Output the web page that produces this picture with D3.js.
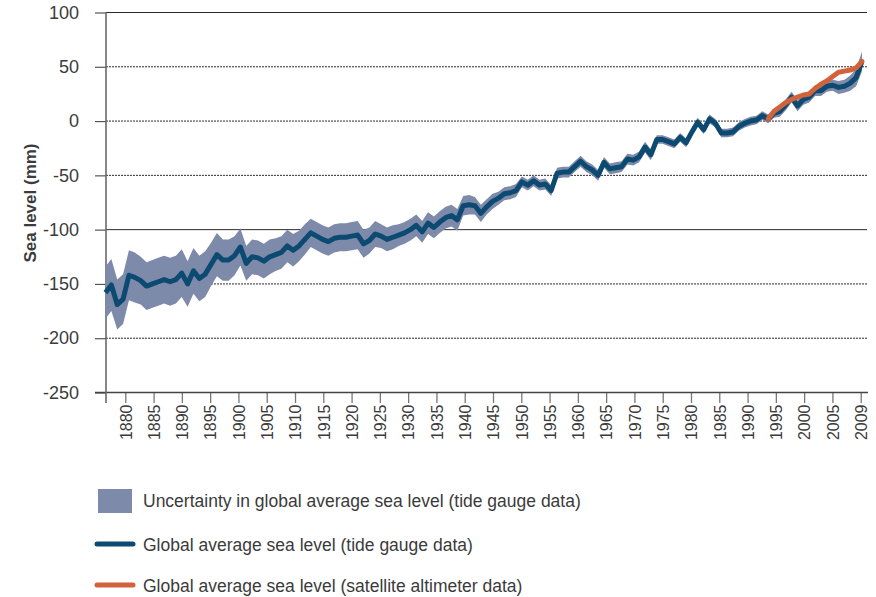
<!DOCTYPE html>
<html>
<head>
<meta charset="utf-8">
<script src="https://d3js.org/d3.v7.min.js"></script>
<style>
  body { margin: 0; background: #fff; }
  text { font-family: "Liberation Sans", Arial, sans-serif; fill: #3b3b3b; }
</style>
</head>
<body>
<div id="chart"></div>
<script>
// tide gauge reconstruction, one value per year 1880-2009 (mm)
var years = d3.range(1880, 2010);
var tideLevel = [
  -158, -151, -169, -164, -142, -144, -147, -152, -150, -148,
  -146, -148, -146, -140, -150, -138, -145, -141, -132, -123,
  -128, -128, -124, -116, -131, -125, -126, -129, -125, -123,
  -121, -115, -119, -115, -109, -103, -106, -109, -111, -108,
  -107, -107, -106, -105, -113, -110, -104, -106, -109, -107,
  -105, -103, -100, -96, -102, -94, -98, -93, -89, -87,
  -91, -78, -77, -78, -85, -79, -74, -71, -67, -66,
  -64, -56, -59, -55, -59, -58, -64, -48, -47, -47,
  -42, -37, -42, -45, -50, -38, -44, -43, -42, -35,
  -36, -33, -24, -31, -17, -17, -19, -21, -15, -20,
  -10, -1, -8, 2, -2, -11, -11, -10, -5, -2,
  0, 1, 5, 2, 7, 9, 15, 22, 14, 20,
  22, 28, 28, 32, 33, 31, 32, 35, 40, 55
];
var tideError = [
  24, 24, 23, 23, 23, 23, 22, 22, 22, 22,
  22, 22, 22, 22, 21, 21, 21, 21, 20, 20,
  19, 19, 18, 17, 16, 16, 16, 16, 16, 15,
  15, 15, 15, 14, 14, 13, 13, 13, 13, 13,
  13, 13, 13, 13, 13, 12, 12, 11, 11, 11,
  10, 10, 10, 10, 10, 10, 10, 10, 10, 10,
  10, 9, 9, 8, 8, 7, 7, 6, 6, 6,
  6, 5, 5, 5, 5, 5, 5, 5, 5, 5,
  5, 5, 5, 5, 5, 5, 5, 5, 5, 5,
  5, 5, 5, 5, 4, 4, 4, 4, 4, 4,
  4, 4, 4, 4, 4, 4, 4, 4, 4, 4,
  4, 4, 4, 4, 4, 5, 5, 5, 5, 5,
  5, 5, 5, 5, 5, 6, 6, 7, 8, 9
];
// satellite altimeter, 1993-2009 (mm)
var satYears = d3.range(1993, 2010);
var satLevel = [2, 9, 13, 17, 20, 22, 24, 25, 30, 34, 37, 41, 45, 46, 47, 49, 55];

var yTicks = [100, 50, 0, -50, -100, -150, -200, -250];
var xTickLabels = ['1880', '1885', '1890', '1895', '1900', '1905', '1910', '1915', '1920',
  '1925', '1930', '1935', '1940', '1945', '1950', '1955', '1960', '1965', '1970',
  '1975', '1980', '1985', '1990', '1995', '2000', '2005', '2009'];
var legendLabels = [
  'Uncertainty in global average sea level (tide gauge data)',
  'Global average sea level (tide gauge data)',
  'Global average sea level (satellite altimeter data)'
];

var bandColor = '#7e8aa9', tideColor = '#0c4a71', satColor = '#d1623b';

var margin = {top: 12.5, left: 106};
var width = 761, height = 380;

var svg = d3.select('#chart').append('svg')
    .attr('width', 876)
    .attr('height', 597);

var g = svg.append('g')
    .attr('transform', 'translate(' + margin.left + ',' + margin.top + ')');

var x = d3.scaleLinear().domain([1880, 2009]).range([-0.5, 756]);
var xLab = d3.scalePoint().domain(xTickLabels).range([19.3, 754.7]);
var y = d3.scaleLinear().domain([-250, 100]).range([height, 0]);

var tide = years.map(function(yr, i){ return {year: yr, level: tideLevel[i], err: tideError[i]}; });
var sat = satYears.map(function(yr, i){ return {year: yr, level: satLevel[i]}; });

// gridlines
g.selectAll('.grid')
    .data(yTicks.filter(function(d){ return d !== -250; }))
    .enter().append('line')
    .attr('x1', 0).attr('x2', width)
    .attr('y1', function(d){ return y(d); })
    .attr('y2', function(d){ return y(d); })
    .attr('stroke', '#2a2a2a')
    .attr('stroke-width', 1)
    .attr('stroke-dasharray', function(d){ return (d === 100 || d === -100) ? null : '2,1'; });

// y axis
var yAxis = g.append('g')
    .call(d3.axisLeft(y).tickValues(yTicks).tickSize(11).tickPadding(16)
      .tickFormat(function(d){ return String(d); }));
yAxis.select('.domain').remove();
yAxis.selectAll('line').attr('stroke', '#555').attr('stroke-width', 1.2);
yAxis.selectAll('text').style('font-size', '18px').attr('fill', '#3b3b3b');

// x axis
var xAxis = g.append('g')
    .attr('transform', 'translate(0,' + height + ')')
    .call(d3.axisBottom(xLab).tickSize(10.5));
xAxis.select('.domain').remove();
xAxis.selectAll('line').attr('stroke', '#777').attr('stroke-width', 1.3);
xAxis.selectAll('text')
    .attr('transform', 'rotate(-90)')
    .attr('x', -12)
    .attr('y', 0)
    .attr('dy', '0.36em')
    .style('text-anchor', 'end')
    .style('font-size', '16px')
    .attr('fill', '#3b3b3b');

g.append('line')
    .attr('x1', -11).attr('x2', width + 1)
    .attr('y1', height).attr('y2', height)
    .attr('stroke', '#444').attr('stroke-width', 1.3);
g.append('line')
    .attr('x1', 0).attr('x2', 0)
    .attr('y1', 0).attr('y2', height + 10.5)
    .attr('stroke', '#6a6a6a').attr('stroke-width', 1.6);

// uncertainty band
g.append('path')
    .datum(tide)
    .attr('fill', bandColor)
    .attr('d', d3.area()
      .x(function(d){ return x(d.year); })
      .y0(function(d){ return y(d.level - d.err); })
      .y1(function(d){ return y(d.level + d.err); }));

g.append('path')
    .datum(tide)
    .attr('fill', 'none')
    .attr('stroke', tideColor)
    .attr('stroke-width', 5)
    .attr('stroke-linejoin', 'round')
    .attr('d', d3.line()
      .x(function(d){ return x(d.year); })
      .y(function(d){ return y(d.level); }));

g.append('path')
    .datum(sat)
    .attr('fill', 'none')
    .attr('stroke', satColor)
    .attr('stroke-width', 5)
    .attr('stroke-linejoin', 'round')
    .attr('stroke-linecap', 'round')
    .attr('d', d3.line()
      .x(function(d){ return x(d.year); })
      .y(function(d){ return y(d.level); }));

// axis title
svg.append('text')
    .attr('transform', 'translate(36,203) rotate(-90)')
    .style('text-anchor', 'middle')
    .style('font-size', '17px')
    .style('font-weight', 'bold')
    .attr('fill', '#222')
    .text('Sea level (mm)');

// legend
var legend = svg.append('g');
legend.append('rect')
    .attr('x', 98).attr('y', 489)
    .attr('width', 34).attr('height', 24)
    .attr('fill', bandColor);
legend.append('line')
    .attr('x1', 97).attr('x2', 133).attr('y1', 544).attr('y2', 544)
    .attr('stroke', tideColor).attr('stroke-width', 5).attr('stroke-linecap', 'round');
legend.append('line')
    .attr('x1', 97).attr('x2', 133).attr('y1', 585).attr('y2', 585)
    .attr('stroke', satColor).attr('stroke-width', 5).attr('stroke-linecap', 'round');

legend.selectAll('.legText')
    .data(legendLabels)
    .enter().append('text')
    .attr('x', 143)
    .attr('y', function(d, i){ return [501, 545, 586][i]; })
    .attr('dy', '0.35em')
    .style('font-size', '17.5px')
    .attr('fill', '#444')
    .text(function(d){ return d; });
</script>
</body>
</html>
